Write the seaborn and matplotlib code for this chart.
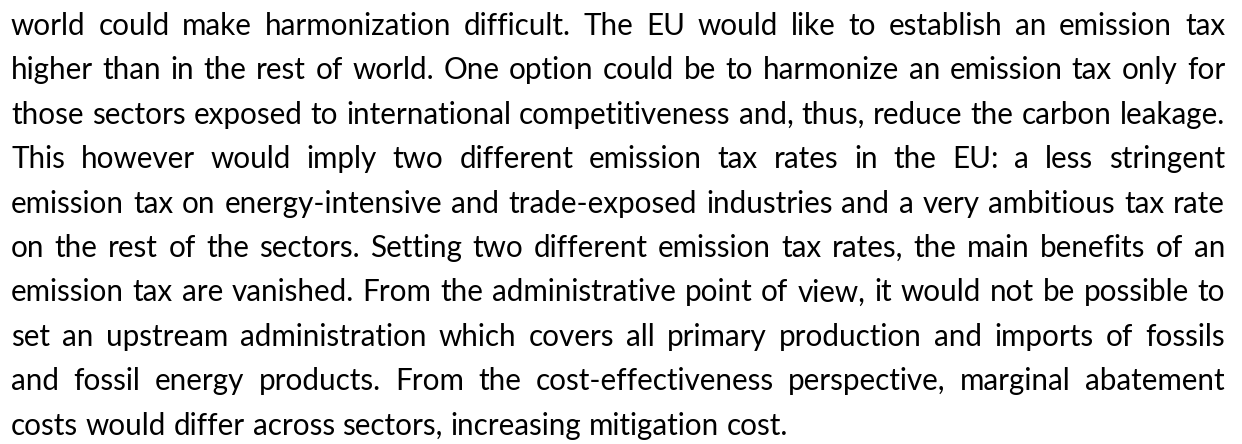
import matplotlib
matplotlib.use("Agg")
import matplotlib.pyplot as plt
import seaborn as sns

sns.set_theme(style="white")
plt.rcParams['font.family'] = ['Lato', 'DejaVu Sans']

# paragraph text, one entry per printed line
lines = [
    "world could make harmonization difficult. The EU would like to establish an emission tax",
    "higher than in the rest of world. One option could be to harmonize an emission tax only for",
    "those sectors exposed to international competitiveness and, thus, reduce the carbon leakage.",
    "This however would imply two different emission tax rates in the EU: a less stringent",
    "emission tax on energy-intensive and trade-exposed industries and a very ambitious tax rate",
    "on the rest of the sectors. Setting two different emission tax rates, the main benefits of an",
    "emission tax are vanished. From the administrative point of view, it would not be possible to",
    "set an upstream administration which covers all primary production and imports of fossils",
    "and fossil energy products. From the cost-effectiveness perspective, marginal abatement",
    "costs would differ across sectors, increasing mitigation cost.",
]
justified = [True] * 9 + [False]

W, H = 1242, 444
left, right = 11, 1225
first_base, line_gap = 35, 44.4
fsize = 21.3

fig = plt.figure(figsize=(W / 100, H / 100), dpi=100)
ax = fig.add_axes([0, 0, 1, 1])
ax.set_xlim(0, W)
ax.set_ylim(H, 0)
ax.axis('off')
renderer = fig.canvas.get_renderer()

def width_of(s):
    t = ax.text(0, 0, s, fontsize=fsize)
    w = t.get_window_extent(renderer).width
    t.remove()
    return w

space_w = width_of("a b") - width_of("ab")

# lay out word by word so every line but the last fills the full width
for i, (line, just) in enumerate(zip(lines, justified)):
    y = first_base + i * line_gap
    words = line.split(" ")
    widths = [width_of(w) for w in words]
    if just and len(words) > 1:
        gap = (right - left - sum(widths)) / (len(words) - 1)
    else:
        gap = space_w
    x = left
    for w, ww in zip(words, widths):
        ax.text(x, y, w, fontsize=fsize, color='black', va='baseline', ha='left')
        x += ww + gap

fig.savefig('out.png', dpi=100)
